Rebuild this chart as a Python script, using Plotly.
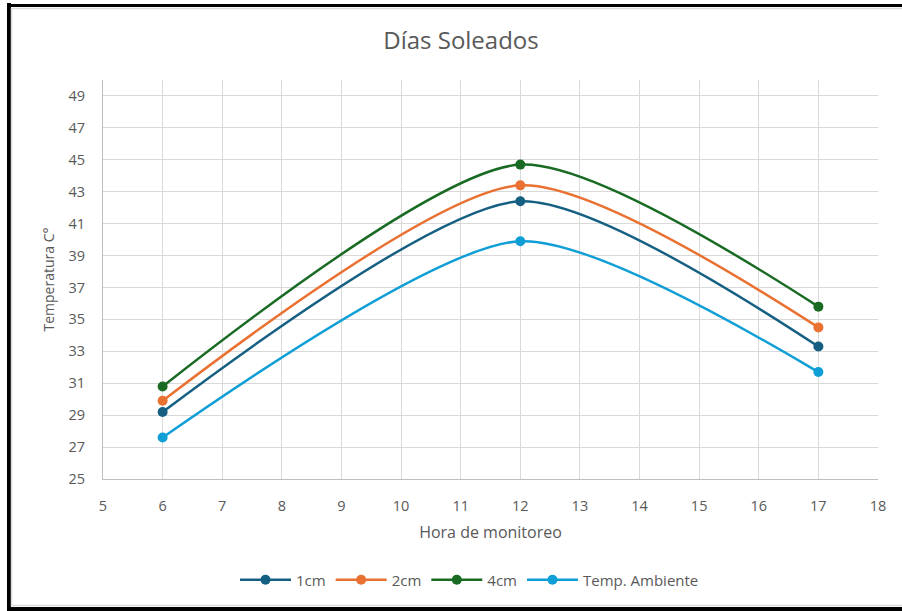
import plotly.graph_objects as go

# Monitoring hours and temperatures (°C) on sunny days
horas = [6, 12, 17]
t_1cm = [29.2, 42.4, 33.3]
t_2cm = [29.9, 43.4, 34.5]
t_4cm = [30.8, 44.7, 35.8]
t_amb = [27.6, 39.9, 31.7]

series_names = ["1cm", "2cm", "4cm", "Temp. Ambiente"]
series_values = [t_1cm, t_2cm, t_4cm, t_amb]
series_colors = ["#156082", "#E97132", "#196B24", "#0F9ED5"]

x_ticks = list(range(5, 19))
y_ticks = list(range(25, 50, 2))

fig = go.Figure()
for name, vals, col in zip(series_names, series_values, series_colors):
    fig.add_trace(go.Scatter(
        x=horas, y=vals, name=name, mode="lines+markers",
        line=dict(color=col, width=2.5, shape="spline", smoothing=0.7),
        marker=dict(color=col, size=10),
    ))

# plot-area pixel geometry (used to place frame lines in paper units)
W, H = 902, 611
L, R, T, B = 103, 24, 80, 132
pw, ph = W - L - R, H - T - B


def px(x):
    return (x - L) / pw


def py(y):
    return (H - B - y) / ph


frame = [
    # outer black frame (left, top, bottom)
    dict(x0=px(9), x1=px(9), y0=py(3), y1=py(612), color="black", width=4),
    dict(x0=px(7), x1=px(905), y0=py(5.5), y1=py(5.5), color="black", width=3),
    dict(x0=px(7), x1=px(905), y0=py(609), y1=py(609), color="black", width=4),
    # thin grey inner edge
    dict(x0=px(11.5), x1=px(11.5), y0=py(8), y1=py(606), color="#d9d9d9", width=1.5),
    dict(x0=px(11), x1=px(905), y0=py(8.5), y1=py(8.5), color="#d9d9d9", width=1.5),
    dict(x0=px(11), x1=px(905), y0=py(605.5), y1=py(605.5), color="#d9d9d9", width=1.5),
]
shapes = [
    dict(type="line", xref="paper", yref="paper", x0=f["x0"], x1=f["x1"],
         y0=f["y0"], y1=f["y1"], line=dict(color=f["color"], width=f["width"]))
    for f in frame
]

TXT = "#595959"
fig.update_layout(
    width=W, height=H,
    margin=dict(l=L, r=R, t=T, b=B),
    paper_bgcolor="white", plot_bgcolor="white",
    font=dict(family="Open Sans, sans-serif", color=TXT),
    title=dict(text="Días Soleados", x=(461 - L) / pw, xref="paper", xanchor="center",
               y=1 - 41 / H, yanchor="middle",
               font=dict(size=24, color=TXT)),
    xaxis=dict(range=[5, 18], tickvals=x_ticks, showgrid=True, gridcolor="#d9d9d9",
               gridwidth=1, zeroline=False, showline=True, linecolor="#bfbfbf",
               linewidth=1, ticks="", ticklen=0, ticklabelstandoff=14,
               tickfont=dict(size=14.5, color=TXT),
               title=dict(text="Hora de monitoreo", standoff=12,
                          font=dict(size=16, color=TXT))),
    yaxis=dict(range=[25, 50], tickvals=y_ticks, showgrid=True, gridcolor="#d9d9d9",
               gridwidth=1, zeroline=False, showline=True, linecolor="#bfbfbf",
               linewidth=1, ticks="", ticklen=0, ticklabelstandoff=14,
               tickfont=dict(size=14.5, color=TXT),
               title=dict(text="Temperatura C°", standoff=10,
                          font=dict(size=14, color=TXT))),
    legend=dict(orientation="h", x=px(235), xanchor="left",
                y=py(580), yanchor="middle", bgcolor="rgba(0,0,0,0)",
                font=dict(size=15, color=TXT),
                itemwidth=51, tracegroupgap=0),
    shapes=shapes,
    showlegend=True,
)

fig.write_html("out.html")
